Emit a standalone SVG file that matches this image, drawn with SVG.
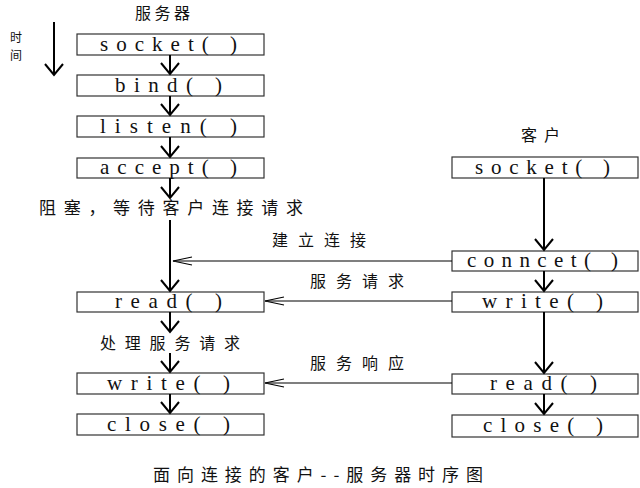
<svg xmlns="http://www.w3.org/2000/svg" width="640" height="488" viewBox="0 0 640 488">
<style>
.box rect{fill:#fff;stroke:#333;stroke-width:1.2}
.box text{font-family:"Liberation Serif",serif;font-size:21px;fill:#111}
.lbl{font-family:"Noto Sans CJK SC",sans-serif;font-size:16px;fill:#111}
.v{stroke:#000;stroke-width:2;fill:none;marker-end:url(#va)}
.h{stroke:#000;stroke-width:1.2;fill:none;marker-end:url(#ha)}
</style>
<defs>
<marker id="va" markerUnits="userSpaceOnUse" markerWidth="12" markerHeight="20" refX="11" refY="9" orient="auto" overflow="visible">
<path d="M0,0 L11,9 L0,18" fill="none" stroke="#000" stroke-width="2"/>
</marker>
<marker id="ha" markerUnits="userSpaceOnUse" markerWidth="20" markerHeight="10" refX="19" refY="4" orient="auto" overflow="visible">
<path d="M0,0 L19,4 L0,8" fill="none" stroke="#000" stroke-width="1.2"/>
</marker>
</defs>
<rect width="640" height="488" fill="#fff"/>

<text class="lbl" x="135" y="19" textLength="55" lengthAdjust="spacing">服务器</text>
<text class="lbl" x="10" y="42" style="font-size:12px">时</text>
<text class="lbl" x="10" y="60" style="font-size:12px">间</text>
<text class="lbl" x="521" y="141" textLength="39" lengthAdjust="spacing">客户</text>
<text class="lbl" x="39" y="214" textLength="264" lengthAdjust="spacing" style="font-size:17px">阻塞，等待客户连接请求</text>
<text class="lbl" x="100" y="349" textLength="140" lengthAdjust="spacing">处理服务请求</text>
<text class="lbl" x="272" y="246" textLength="94" lengthAdjust="spacing">建立连接</text>
<text class="lbl" x="310" y="287" textLength="94" lengthAdjust="spacing">服务请求</text>
<text class="lbl" x="310" y="369" textLength="94" lengthAdjust="spacing">服务响应</text>
<text class="lbl" x="153" y="481" textLength="330" lengthAdjust="spacing" style="font-size:17px">面向连接的客户--服务器时序图</text>

<g id="s-socket" class="box"><rect x="77" y="34" width="187" height="21"/><text x="100" y="51" textLength="137" lengthAdjust="spacing">socket( )</text></g>
<g id="s-bind" class="box"><rect x="77" y="75" width="187" height="21"/><text x="115" y="92" textLength="107" lengthAdjust="spacing">bind( )</text></g>
<g id="s-listen" class="box"><rect x="77" y="116" width="187" height="21"/><text x="100" y="133" textLength="137" lengthAdjust="spacing">listen( )</text></g>
<g id="s-accept" class="box"><rect x="77" y="158" width="187" height="20"/><text x="100" y="174" textLength="137" lengthAdjust="spacing">accept( )</text></g>
<g id="s-read" class="box"><rect x="77" y="292" width="187" height="20"/><text x="115" y="308" textLength="107" lengthAdjust="spacing">read( )</text></g>
<g id="s-write" class="box"><rect x="77" y="373" width="187" height="21"/><text x="107" y="390" textLength="123" lengthAdjust="spacing">write( )</text></g>
<g id="s-close" class="box"><rect x="77" y="414" width="187" height="21"/><text x="107" y="431" textLength="123" lengthAdjust="spacing">close( )</text></g>

<g id="c-socket" class="box"><rect x="452" y="157" width="186" height="21"/><text x="475" y="174" textLength="135" lengthAdjust="spacing">socket( )</text></g>
<g id="c-connect" class="box"><rect x="452" y="251" width="186" height="20"/><text x="467" y="267" textLength="151" lengthAdjust="spacing">conncet( )</text></g>
<g id="c-write" class="box"><rect x="452" y="292" width="186" height="20"/><text x="482" y="308" textLength="121" lengthAdjust="spacing">write( )</text></g>
<g id="c-read" class="box"><rect x="452" y="374" width="186" height="20"/><text x="490" y="390" textLength="107" lengthAdjust="spacing">read( )</text></g>
<g id="c-close" class="box"><rect x="452" y="415" width="186" height="22"/><text x="483" y="432" textLength="120" lengthAdjust="spacing">close( )</text></g>

<g id="connectors">
<line class="v" x1="54" y1="22" x2="54" y2="75"/>
<line class="v" x1="170" y1="55" x2="170" y2="74"/>
<line class="v" x1="170" y1="96" x2="170" y2="115"/>
<line class="v" x1="170" y1="137" x2="170" y2="157"/>
<line class="v" x1="170" y1="178" x2="170" y2="198"/>
<line class="v" x1="170" y1="220" x2="170" y2="291"/>
<line class="v" x1="170" y1="312" x2="170" y2="332"/>
<line class="v" x1="170" y1="353" x2="170" y2="372"/>
<line class="v" x1="170" y1="394" x2="170" y2="413"/>
<line class="v" x1="544" y1="178" x2="544" y2="250"/>
<line class="v" x1="544" y1="271" x2="544" y2="291"/>
<line class="v" x1="544" y1="312" x2="544" y2="373"/>
<line class="v" x1="544" y1="394" x2="544" y2="414"/>
<line class="h" x1="452" y1="261" x2="173" y2="261"/>
<line class="h" x1="452" y1="301" x2="265" y2="301"/>
<line class="h" x1="452" y1="383" x2="265" y2="383"/>
</g>
</svg>
